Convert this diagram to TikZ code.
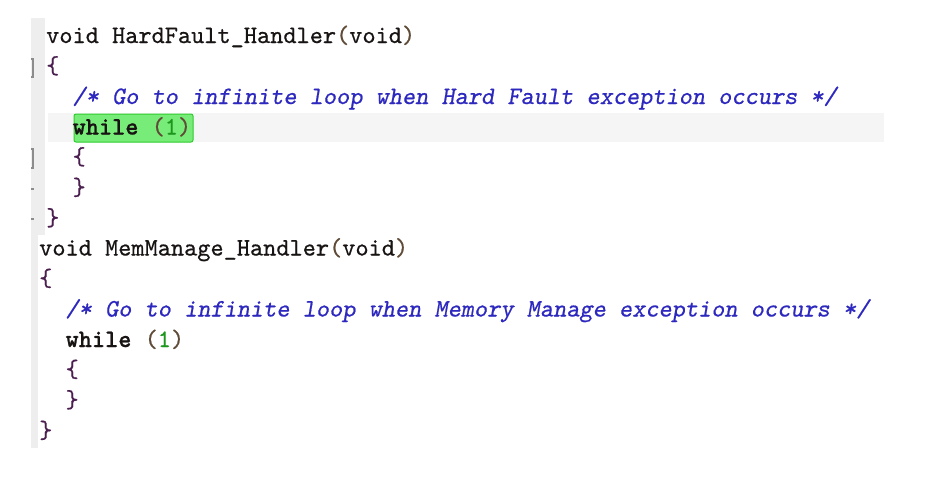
\documentclass[tikz,border=0pt]{standalone}
\usepackage{fontspec}
\newfontfamily\codefont[Extension=.otf,
  UprightFont=lmmono10-regular, UprightFeatures={FakeBold=0.6},
  ItalicFont=lmmonoslant10-regular, ItalicFeatures={FakeBold=0.6},
  BoldFont=lmmonolt10-bold, BoldFeatures={FakeBold=0.8}]{lmmono10-regular}
\definecolor{txt}{RGB}{25,20,20}
\definecolor{brace}{RGB}{75,30,80}
\definecolor{paren}{RGB}{95,75,55}
\definecolor{cmt}{RGB}{45,40,190}
\definecolor{num}{RGB}{30,150,30}
\definecolor{gutter}{RGB}{238,238,238}
\definecolor{fold}{RGB}{140,140,140}
\definecolor{curline}{RGB}{245,245,245}
\definecolor{hlfill}{RGB}{120,236,120}
\definecolor{hldraw}{RGB}{45,205,45}
\newcommand{\br}[1]{\textcolor{brace}{#1}}
\newcommand{\pa}[1]{\textcolor{paren}{#1}}
\begin{document}
\begin{tikzpicture}[x=1pt,y=-1pt,
  codeline/.style={anchor=base west,inner sep=0pt,text=txt,font=\codefont\fontsize{25.1}{25}\selectfont},
  foldmark/.style={draw=fold,line width=1.2pt}]
\useasboundingbox[fill=white] (0,0) rectangle (925,477);
% gutters
\fill[gutter] (31,18) rectangle (45,235);
\fill[gutter] (31,235) rectangle (38,448);
% current line band
\fill[curline] (48,113) rectangle (884,142);
% highlight box
\draw[hldraw,fill=hlfill,rounded corners=2pt,line width=1pt] (74,114) rectangle (193,142);
% fold markers
\draw[foldmark] (31,59) -- (33,59) -- (33,77) -- (31,77);
\draw[foldmark] (31,149) -- (33,149) -- (33,168) -- (31,168);
\draw[foldmark] (31,189) -- (34,189);
\draw[foldmark] (31,219) -- (34,219);
% block 1
\node[codeline] (l1) at (46,43) {void HardFault\_Handler\pa{(}void\pa{)}};
\node[codeline] (l2) at (46,73.5) {\br{\{}};
\node[codeline,text=cmt] (l3) at (72.4,104) {\itshape /* Go to infinite loop when Hard Fault exception occurs */};
\node[codeline] (l4) at (72.4,134.5) {\bfseries while\mdseries{} \pa{(}\textcolor{num}{1}\pa{)}};
\node[codeline] (l5) at (72.4,164.5) {\br{\{}};
\node[codeline] (l6) at (72.4,195) {\br{\}}};
\node[codeline] (l7) at (46,225.5) {\br{\}}};
% block 2
\node[codeline] (m1) at (39,255.5) {void MemManage\_Handler\pa{(}void\pa{)}};
\node[codeline] (m2) at (39,286) {\br{\{}};
\node[codeline,text=cmt] (m3) at (65.4,316.5) {\itshape /* Go to infinite loop when Memory Manage exception occurs */};
\node[codeline] (m4) at (65.4,347) {\bfseries while\mdseries{} \pa{(}\textcolor{num}{1}\pa{)}};
\node[codeline] (m5) at (65.4,377) {\br{\{}};
\node[codeline] (m6) at (65.4,407.5) {\br{\}}};
\node[codeline] (m7) at (39,438) {\br{\}}};
\end{tikzpicture}
\end{document}
